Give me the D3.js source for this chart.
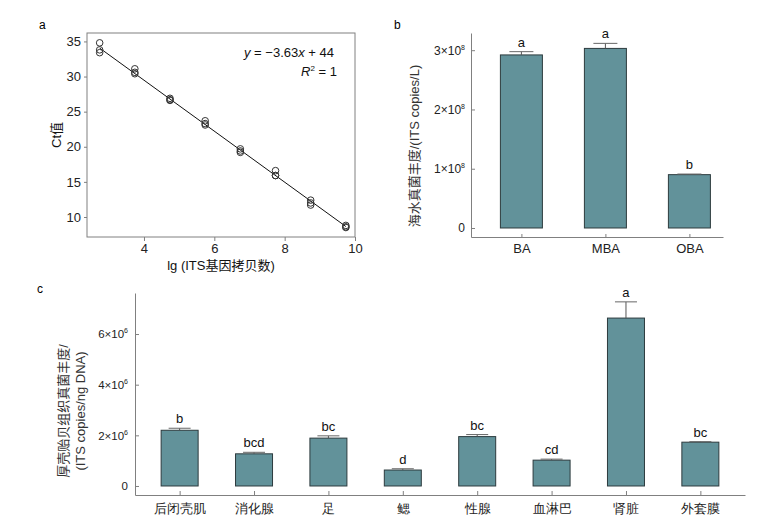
<!DOCTYPE html>
<html>
<head>
<meta charset="utf-8">
<script src="https://cdn.jsdelivr.net/npm/d3@7"></script>
<style>
  body { margin: 0; background: #fff; }
  svg { font-family: "Liberation Sans", Arial, "Noto Sans CJK SC", sans-serif; }
  .tick text { fill: #222; }
</style>
</head>
<body>
<svg width="769" height="528"></svg>
<script>
// panel a: standard curve (three replicates per dilution)
const lgCopies = [2.74, 3.74, 4.74, 5.74, 6.74, 7.74, 8.74, 9.74];
const ctRep1 = [34.8, 31.1, 26.9, 23.7, 19.7, 16.6, 12.4, 8.8];
const ctRep2 = [33.8, 30.6, 26.7, 23.3, 19.4, 15.9, 12.0, 8.6];
const ctRep3 = [33.4, 30.4, 26.6, 23.1, 19.2, 15.9, 11.7, 8.5];
const fitSlope = -3.63;
const fitIntercept = 44;
const ctTicks = [10, 15, 20, 25, 30, 35];
const lgTicks = [4, 6, 8, 10];

// panel b: seawater
const seaSites = ['BA', 'MBA', 'OBA'];
const seaMeans = [2.92e8, 3.03e8, 0.90e8];
const seaErr = [0.055e8, 0.085e8, 0.01e8];
const seaLetters = ['a', 'a', 'b'];
const seaTicks = [0, 1e8, 2e8, 3e8];

// panel c: mussel tissues
const tissues = ['后闭壳肌', '消化腺', '足', '鳃', '性腺', '血淋巴', '肾脏', '外套膜'];
const tissueMeans = [2.20e6, 1.27e6, 1.89e6, 0.63e6, 1.95e6, 1.02e6, 6.63e6, 1.73e6];
const tissueErr = [0.08e6, 0.06e6, 0.09e6, 0.05e6, 0.08e6, 0.04e6, 0.64e6, 0.02e6];
const tissueLetters = ['b', 'bcd', 'bc', 'd', 'bc', 'cd', 'a', 'bc'];
const tissueTicks = [0, 2e6, 4e6, 6e6];

const svg = d3.select('svg');
const barFill = '#62929a';
const barStroke = '#2d3b3e';
const axisGray = '#808080';

// superscript power-of-ten labels, e.g. 3×10^8
function sciLabel(sel, exp, supSize) {
  sel.each(function (d) {
    const t = d3.select(this).text(null);
    if (d === 0) { t.text('0'); return; }
    t.append('tspan').text(Math.round(d / Math.pow(10, exp)) + '×10');
    t.append('tspan').attr('dy', -5).attr('font-size', supSize).text(exp);
  });
}

// ---------- panel a ----------
{
  const x = d3.scaleLinear().domain([2.38, 10]).range([87, 355]);
  const y = d3.scaleLinear().domain([7.15, 36.2]).range([237, 33]);
  const g = svg.append('g');

  g.append('g')
    .attr('transform', 'translate(0,237)')
    .call(d3.axisBottom(x).tickValues(lgTicks).tickSize(4).tickPadding(3))
    .call((a) => a.select('.domain').remove())
    .call((a) => a.selectAll('line').attr('stroke', axisGray))
    .selectAll('text').attr('font-size', 13);

  g.append('g')
    .attr('transform', 'translate(87,0)')
    .call(d3.axisLeft(y).tickValues(ctTicks).tickSize(3).tickPadding(3))
    .call((a) => a.select('.domain').remove())
    .call((a) => a.selectAll('line').attr('stroke', axisGray))
    .selectAll('text').attr('font-size', 13);

  g.append('rect')
    .attr('x', 87).attr('y', 33).attr('width', 268).attr('height', 204)
    .attr('fill', 'none').attr('stroke', axisGray);

  const xs = [lgCopies[0], lgCopies[lgCopies.length - 1]];
  g.append('line')
    .attr('x1', x(xs[0])).attr('y1', y(fitSlope * xs[0] + fitIntercept))
    .attr('x2', x(xs[1])).attr('y2', y(fitSlope * xs[1] + fitIntercept))
    .attr('stroke', '#111').attr('stroke-width', 1);

  const pts = [];
  [ctRep1, ctRep2, ctRep3].forEach((rep) => rep.forEach((v, i) => pts.push([lgCopies[i], v])));
  g.selectAll('circle.pt').data(pts).enter().append('circle')
    .attr('class', 'pt')
    .attr('cx', (d) => x(d[0])).attr('cy', (d) => y(d[1]))
    .attr('r', 3.3)
    .attr('fill', 'none').attr('stroke', '#333').attr('stroke-width', 1);

  const eq = g.append('text').attr('x', 334).attr('y', 57)
    .attr('text-anchor', 'end').attr('font-size', 13).attr('fill', '#111');
  eq.append('tspan').attr('font-style', 'italic').text('y');
  eq.append('tspan').text(' = −3.63');
  eq.append('tspan').attr('font-style', 'italic').text('x');
  eq.append('tspan').text(' + 44');

  const r2 = g.append('text').attr('x', 337).attr('y', 76)
    .attr('text-anchor', 'end').attr('font-size', 13).attr('fill', '#111');
  r2.append('tspan').attr('font-style', 'italic').text('R');
  r2.append('tspan').attr('dy', -5).attr('font-size', 8).text('2');
  r2.append('tspan').attr('dy', 5).text(' = 1');

  g.append('text')
    .attr('transform', 'translate(56,135) rotate(-90)')
    .attr('text-anchor', 'middle').attr('dominant-baseline', 'central')
    .attr('font-size', 13).attr('fill', '#111').text('Ct值');

  g.append('text')
    .attr('x', 221).attr('y', 270)
    .attr('text-anchor', 'middle').attr('font-size', 13).attr('fill', '#111')
    .text('lg (ITS基因拷贝数)');

  g.append('text').attr('x', 39).attr('y', 29).attr('font-size', 12).text('a');
}

// ---------- panel b ----------
{
  const x = d3.scalePoint().domain(seaSites).range([471, 723]).padding(0.5).align(0.6);
  const y = d3.scaleLinear().domain([-0.152e8, 3.29e8]).range([237, 33]);
  const g = svg.append('g');

  g.append('g')
    .attr('transform', 'translate(0,237)')
    .call(d3.axisBottom(x).tickSizeInner(-3).tickSizeOuter(0).tickPadding(7))
    .call((a) => a.selectAll('line, path').attr('stroke', axisGray))
    .selectAll('text').attr('font-size', 13);

  g.append('g')
    .attr('transform', 'translate(471,0)')
    .call(d3.axisLeft(y).tickValues(seaTicks).tickSizeInner(-4).tickSizeOuter(0).tickPadding(6))
    .call((a) => a.selectAll('line, path').attr('stroke', axisGray))
    .selectAll('.tick text').attr('font-size', 12).call(sciLabel, 8, 7);

  const bw = 42;
  g.selectAll('rect.bar').data(seaMeans).enter().append('rect')
    .attr('class', 'bar')
    .attr('x', (d, i) => x(seaSites[i]) - bw / 2)
    .attr('y', (d) => y(d))
    .attr('width', bw)
    .attr('height', (d) => y(0) - y(d))
    .attr('fill', barFill).attr('stroke', barStroke);

  g.selectAll('line.err').data(seaMeans).enter().append('line')
    .attr('class', 'err')
    .attr('x1', (d, i) => x(seaSites[i])).attr('x2', (d, i) => x(seaSites[i]))
    .attr('y1', (d) => y(d)).attr('y2', (d, i) => y(d + seaErr[i]))
    .attr('stroke', '#555');
  g.selectAll('line.cap').data(seaMeans).enter().append('line')
    .attr('class', 'cap')
    .attr('x1', (d, i) => x(seaSites[i]) - 12).attr('x2', (d, i) => x(seaSites[i]) + 12)
    .attr('y1', (d, i) => y(d + seaErr[i])).attr('y2', (d, i) => y(d + seaErr[i]))
    .attr('stroke', '#666');

  g.selectAll('text.sig').data(seaMeans).enter().append('text')
    .attr('class', 'sig')
    .attr('x', (d, i) => x(seaSites[i]))
    .attr('y', (d, i) => y(d + seaErr[i]) - 5)
    .attr('text-anchor', 'middle').attr('font-size', 13).attr('fill', '#111')
    .text((d, i) => seaLetters[i]);

  g.append('text')
    .attr('transform', 'translate(414,146) rotate(-90)')
    .attr('text-anchor', 'middle').attr('dominant-baseline', 'central')
    .attr('font-size', 13).attr('fill', '#333')
    .text('海水真菌丰度/(ITS copies/L)');

  g.append('text').attr('x', 394).attr('y', 29).attr('font-size', 12).text('b');
}

// ---------- panel c ----------
{
  const x = d3.scalePoint().domain(tissues).range([135, 745]).padding(0.6);
  const y = d3.scaleLinear().domain([-0.356e6, 7.62e6]).range([495, 293]);
  const g = svg.append('g');

  g.append('g')
    .attr('transform', 'translate(0,495)')
    .call(d3.axisBottom(x).tickSizeInner(-4).tickSizeOuter(0).tickPadding(9))
    .call((a) => a.selectAll('line, path').attr('stroke', axisGray))
    .selectAll('text').attr('font-size', 13);

  g.append('g')
    .attr('transform', 'translate(135,0)')
    .call(d3.axisLeft(y).tickValues(tissueTicks).tickSizeInner(-4).tickSizeOuter(0).tickPadding(7))
    .call((a) => a.selectAll('line, path').attr('stroke', axisGray))
    .selectAll('.tick text').attr('font-size', 11.5).call(sciLabel, 6, 7);

  const bw = 37;
  g.selectAll('rect.bar').data(tissueMeans).enter().append('rect')
    .attr('class', 'bar')
    .attr('x', (d, i) => x(tissues[i]) - bw / 2)
    .attr('y', (d) => y(d))
    .attr('width', bw)
    .attr('height', (d) => y(0) - y(d))
    .attr('fill', barFill).attr('stroke', barStroke);

  g.selectAll('line.err').data(tissueMeans).enter().append('line')
    .attr('class', 'err')
    .attr('x1', (d, i) => x(tissues[i])).attr('x2', (d, i) => x(tissues[i]))
    .attr('y1', (d) => y(d)).attr('y2', (d, i) => y(d + tissueErr[i]))
    .attr('stroke', '#555');
  g.selectAll('line.cap').data(tissueMeans).enter().append('line')
    .attr('class', 'cap')
    .attr('x1', (d, i) => x(tissues[i]) - 11).attr('x2', (d, i) => x(tissues[i]) + 11)
    .attr('y1', (d, i) => y(d + tissueErr[i])).attr('y2', (d, i) => y(d + tissueErr[i]))
    .attr('stroke', '#666');

  g.selectAll('text.sig').data(tissueMeans).enter().append('text')
    .attr('class', 'sig')
    .attr('x', (d, i) => x(tissues[i]))
    .attr('y', (d, i) => y(d + tissueErr[i]) - 5)
    .attr('text-anchor', 'middle').attr('font-size', 13).attr('fill', '#111')
    .text((d, i) => tissueLetters[i]);

  const title = g.append('text')
    .attr('transform', 'translate(71,411) rotate(-90)')
    .attr('text-anchor', 'middle').attr('font-size', 13).attr('fill', '#333');
  title.append('tspan').attr('x', 0).attr('dy', '-0.2em').text('厚壳贻贝组织真菌丰度/');
  title.append('tspan').attr('x', 0).attr('dy', '1.25em').text('(ITS copies/ng DNA)');

  g.append('text').attr('x', 37).attr('y', 293).attr('font-size', 12).text('c');
}
</script>
</body>
</html>
